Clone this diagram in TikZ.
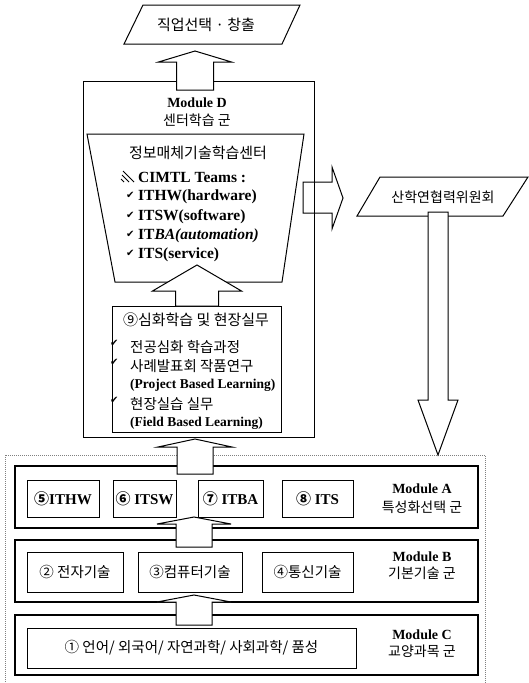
\documentclass[tikz,border=0pt]{standalone}
\usepackage{fontspec}
\setmainfont{Liberation Serif}
\newfontfamily\krf{Noto Sans CJK KR}
\newfontfamily\dvf{DejaVu Sans}
\newcommand\myck[2]{\makebox[#1][l]{\raisebox{#2}{\dvf\fontsize{10}{10}\selectfont ✔}}}
\newcommand\myup[6]{\draw[blk] (#1,#2) -- (#1+#6,#3) -- (#1+#5,#3) -- (#1+#5,#4) -- (#1-#5,#4) -- (#1-#5,#3) -- (#1-#6,#3) -- cycle;}
\begin{document}
\begin{tikzpicture}[x=1pt,y=-1pt,
  blk/.style={draw=black,line width=1pt,fill=white,line join=miter},
  frame/.style={draw=black,line width=1.1pt,inner sep=0pt},
  ibox/.style={draw=black,line width=1pt,inner sep=0pt,font=\bfseries\fontsize{15}{17}\selectfont},
  kbox/.style={draw=black,line width=1pt,inner sep=0pt,font=\krf\fontsize{14.5}{17}\selectfont},
  modl/.style={inner sep=0pt,font=\bfseries\fontsize{14}{16}\selectfont},
  krt/.style={inner sep=0pt,font=\krf\fontsize{14}{16}\selectfont},
  krl/.style={inner sep=0pt,anchor=west,font=\krf\fontsize{14.5}{16}\selectfont},
  engl/.style={inner sep=0pt,anchor=west,font=\bfseries\fontsize{15.5}{17}\selectfont},
  engs/.style={inner sep=0pt,anchor=west,font=\bfseries\fontsize{13.5}{15}\selectfont}]
\useasboundingbox (0,0) rectangle (529,683);
\clip (0,0) rectangle (529,683);

% outer dotted frame for modules A, B, C
\draw[draw=gray,line width=0.9pt,dash pattern=on 1pt off 1pt] (5,455) rectangle (485,700);

% Module A
\node[frame,minimum width=463pt,minimum height=62pt] (modA) at (246.5,497) {};
\node[ibox,minimum width=72pt,minimum height=37pt] (a5) at (63,498.5) {{\krf ⑤}ITHW};
\node[ibox,minimum width=63pt,minimum height=37pt] (a6) at (144.5,498.5) {{\krf ⑥} ITSW};
\node[ibox,minimum width=65pt,minimum height=37pt] (a7) at (230.5,498.5) {{\krf ⑦} ITBA};
\node[ibox,minimum width=71pt,minimum height=37pt] (a8) at (317.5,498.5) {{\krf ⑧} ITS};
\node[modl] (laA) at (422,489) {Module A};
\node[krt] (lbA) at (422,507) {특성화선택 군};

% Module B
\node[frame,minimum width=463pt,minimum height=62pt] (modB) at (246.5,571) {};
\node[kbox,minimum width=96pt,minimum height=40pt] (b2) at (75,572) {② 전자기술};
\node[kbox,minimum width=104pt,minimum height=40pt] (b3) at (190,572) {③컴퓨터기술};
\node[kbox,minimum width=91pt,minimum height=40pt] (b4) at (307.5,572) {④통신기술};
\node[modl] (laB) at (422,557) {Module B};
\node[krt] (lbB) at (422,573) {기본기술 군};

% Module C
\node[frame,minimum width=463pt,minimum height=60pt] (modC) at (246.5,645) {};
\node[kbox,minimum width=329pt,minimum height=40pt] (c1) at (191.5,648) {① 언어/ 외국어/ 자연과학/ 사회과학/ 품성};
\node[modl] (laC) at (422,635) {Module C};
\node[krt] (lbC) at (422,651) {교양과목 군};

% Module D
\node[draw=black,line width=0.8pt,inner sep=0pt,minimum width=231pt,minimum height=356pt] (modD) at (198.5,259) {};
\node[modl] (laD) at (197,103) {Module D};
\node[krt] (lbD) at (197,120) {센터학습 군};

% trapezoid centre
\draw[line width=1pt] (87,134) -- (304,134) -- (282,282) -- (115,282) -- cycle;
\node[inner sep=0pt,font=\krf\fontsize{15}{17}\selectfont] (trap) at (198,153) {정보매체기술학습센터};
\draw[line width=1pt] (123,171) -- (134,182) (122,175) -- (129,182) (121,179) -- (124,182);
\node[engl] (team) at (138,177) {CIMTL Teams :};
\node[engl] (t1) at (126,197) {\myck{12pt}{2.5pt}ITHW(hardware)};
\node[engl] (t2) at (126,217) {\myck{12pt}{2.5pt}ITSW(software)};
\node[engl] (t3) at (126,236) {\myck{12pt}{2.5pt}IT\textit{BA(automation)}};
\node[engl] (t4) at (126,255) {\myck{12pt}{2.5pt}ITS(service)};

% box 9
\node[draw=black,line width=1pt,inner sep=0pt,minimum width=169pt,minimum height=126pt] (deep) at (196.5,369) {};
\node[inner sep=0pt,font=\krf\fontsize{15}{17}\selectfont] (d0) at (196,320) {⑨심화학습 및 현장실무};
\node[krl] (d1) at (110,347) {\myck{20pt}{6pt}전공심화 학습과정};
\node[krl] (d2) at (110,366) {\myck{20pt}{6pt}사례발표회 작품연구};
\node[engs] (d3) at (130,385) {(Project Based Learning)};
\node[krl] (d4) at (110,404) {\myck{20pt}{6pt}현장실습 실무};
\node[engs] (d5) at (130,423) {(Field Based Learning)};

% parallelograms
\draw[line width=1pt] (143,5) -- (300,5) -- (282,44) -- (124,44) -- cycle;
\node[inner sep=0pt,font=\krf\fontsize{15}{17}\selectfont] (goal) at (206,25) {직업선택 {·} 창출};
\draw[line width=1pt] (380,177) -- (528,177) -- (503,216) -- (357,216) -- cycle;
\node[krt] (ind) at (443,197) {산학연협력위원회};

% block arrows
\myup{195}{51}{62}{90}{18.5}{36.5}
\myup{197}{265}{291}{306}{21.5}{44.5}
\myup{195}{439}{447}{474}{18}{37}
\myup{194}{517}{524}{547}{18}{37}
\myup{194}{595}{602}{625}{18}{37}
\draw[blk] (428,212) -- (448,212) -- (448,400) -- (458,400) -- (438,455) -- (418,400) -- (428,400) -- cycle;
\draw[line width=1pt,line join=miter] (303,182) -- (332,182) -- (332,167) -- (343,198) -- (332,229) -- (332,213) -- (303,213) -- cycle;
\end{tikzpicture}
\end{document}
